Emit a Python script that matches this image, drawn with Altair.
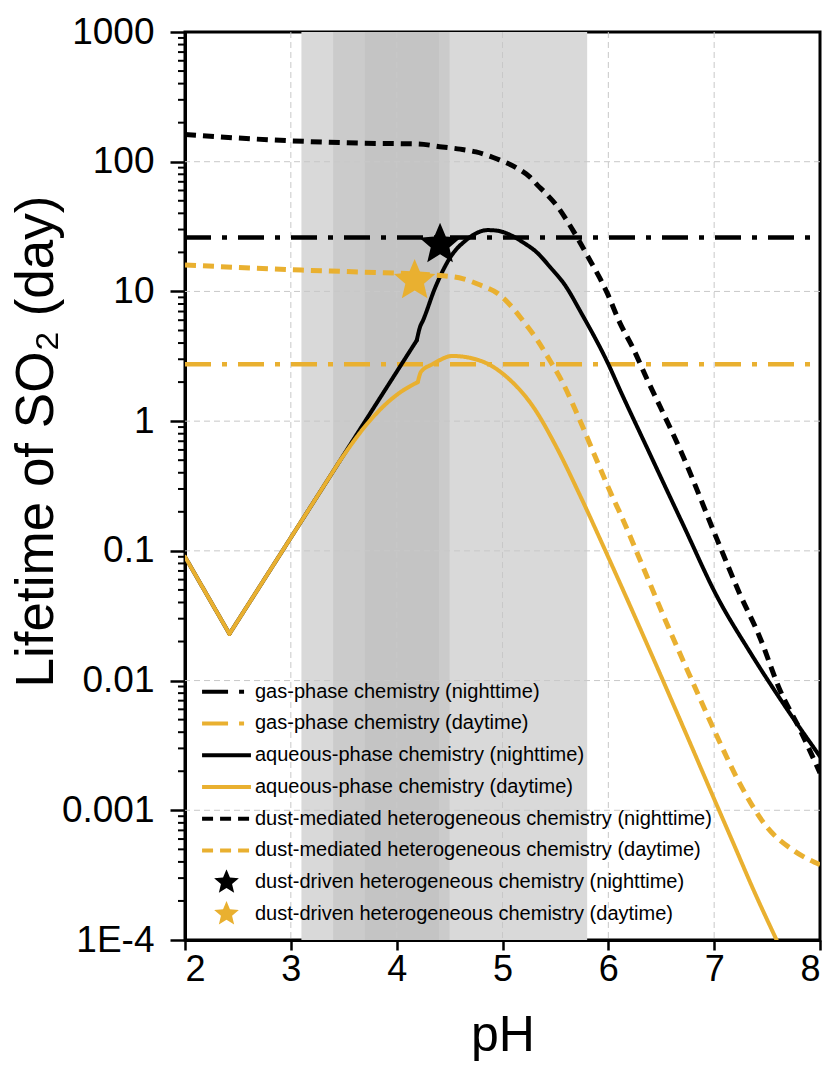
import json
import altair as alt
import pandas as pd

# ---------------- data ----------------
series_names = [
    "gas-phase chemistry (nighttime)",
    "gas-phase chemistry (daytime)",
    "aqueous-phase chemistry (nighttime)",
    "aqueous-phase chemistry (daytime)",
    "dust-mediated heterogeneous chemistry (nighttime)",
    "dust-mediated heterogeneous chemistry (daytime)",
    "dust-driven heterogeneous chemistry (nighttime)",
    "dust-driven heterogeneous chemistry (daytime)",
]

gas_night_ph = [2.0, 8.0]
gas_night_val = [26.0, 26.0]
gas_day_ph = [2.0, 8.0]
gas_day_val = [2.75, 2.75]

aq_night_ph = [2.00, 2.42, 4.19, 4.22, 4.25, 4.36, 4.51, 4.66, 4.76, 4.86, 4.95, 5.05, 5.19,
               5.33, 5.45, 5.59, 5.745, 6.00, 6.11, 6.375, 6.52, 6.71, 7.03, 7.34, 7.65, 8.00]
aq_night_val = [0.090, 0.0229, 4.2, 5.3, 6.0, 10.5, 18.5, 25.0, 28.3, 29.7, 29.4, 27.8, 24.0,
                19.8, 15.4, 11.2, 6.8, 2.75, 1.74, 0.60, 0.335, 0.157, 0.044, 0.0165, 0.0067, 0.0026]
aq_night_kinks = [2.42, 4.19]

aq_day_ph = [2.00, 2.42, 3.46, 3.72, 3.87, 4.03, 4.20, 4.23, 4.34, 4.53, 4.82, 5.04, 5.29,
             5.51, 5.73, 5.99, 6.23, 6.49, 6.74, 7.01, 7.18, 7.37, 7.59]
aq_day_val = [0.090, 0.0229, 0.49, 0.95, 1.29, 1.66, 2.0, 2.4, 2.75, 3.18, 2.86, 2.19, 1.29,
              0.63, 0.27, 0.093, 0.034, 0.0112, 0.0038, 0.00117, 0.00056, 0.000245, 0.0001]
aq_day_kinks = [2.42, 3.46, 4.20]

dust_night_ph = [2.00, 2.99, 3.68, 4.20, 4.43, 4.60, 4.75, 4.95, 5.14, 5.26, 5.33, 5.40, 5.52,
                 5.62, 5.80, 5.99, 6.11, 6.23, 6.37, 6.49, 6.68, 7.03, 7.24, 7.43, 7.62, 7.81, 8.00]
dust_night_val = [162, 145, 139, 137, 130, 125, 119, 105, 89, 76, 66, 58, 45,
                  34, 19, 9.7, 5.7, 3.7, 2.07, 1.29, 0.60, 0.121, 0.047, 0.0217, 0.0085, 0.0042, 0.00194]

dust_day_ph = [2.00, 3.10, 3.68, 4.44, 4.63, 4.79, 4.95, 5.07, 5.19, 5.33, 5.43, 5.57, 5.73,
               5.89, 6.04, 6.11, 6.30, 6.55, 6.80, 7.03, 7.24, 7.50, 7.75, 8.00]
dust_day_val = [16.0, 14.6, 14.1, 13.2, 12.5, 11.2, 9.7, 7.9, 6.0, 4.2, 3.1, 1.97, 1.02,
                0.50, 0.26, 0.196, 0.085, 0.0278, 0.0096, 0.00367, 0.00162, 0.00074, 0.00049, 0.00038]

star_ph = [4.41, 4.17]
star_val = [23.0, 12.1]

band_names = ["pH range A", "pH range B", "pH range C"]
band_start = [3.1, 3.4, 3.7]
band_end = [5.8, 4.5, 4.4]

x_ticks = [2, 3, 4, 5, 6, 7, 8]
x_grid = [3, 4, 5, 6, 7]
y_ticks = [0.0001, 0.001, 0.01, 0.1, 1, 10, 100, 1000]
y_tick_labels = ["1E-4", "0.001", "0.01", "0.1", "1", "10", "100", "1000"]
y_grid = [0.001, 0.01, 0.1, 1, 10, 100]
y_minor = [m * d for d in [0.0001, 0.001, 0.01, 0.1, 1, 10, 100] for m in range(2, 10)]

# ---------------- styles ----------------
BLACK = "#000000"
ORANGE = "#E9B030"
FONT = "Liberation Sans"
series_colors = [BLACK, ORANGE] * 4
legend_strokes = [BLACK, ORANGE] * 3 + ["transparent", "transparent"]
DASHDOT = [26, 11, 5, 11]
SOLID = [1, 0]
DASHED = [11, 7]
series_dash = [DASHDOT, DASHDOT, SOLID, SOLID, DASHED, DASHED, SOLID, SOLID]
LINE_PATH = "M-1.88,0H1.88"
STAR_PATH = ("M0,-1L0.2645,-0.3641L0.9511,-0.309L0.428,0.1391L0.5878,0.809L0,0.45"
             "L-0.5878,0.809L-0.428,0.1391L-0.9511,-0.309L-0.2645,-0.3641Z")
series_shape = [LINE_PATH] * 6 + [STAR_PATH] * 2
band_colors = ["#d9d9d9", "#cbcbcb", "#c4c4c4"]


def frame(series, ph, val, kinks=()):
    rows = []
    seg = 0
    for p, v in zip(ph, val):
        rows.append({"series": series, "seg": f"{series}-{seg}", "pH": p, "value": v})
        if p in kinks:
            seg += 1
            rows.append({"series": series, "seg": f"{series}-{seg}", "pH": p, "value": v})
    return pd.DataFrame(rows)


gas_df = pd.concat([frame(series_names[0], gas_night_ph, gas_night_val),
                    frame(series_names[1], gas_day_ph, gas_day_val)], ignore_index=True)
aq_df = pd.concat([frame(series_names[2], aq_night_ph, aq_night_val, aq_night_kinks),
                   frame(series_names[3], aq_day_ph, aq_day_val, aq_day_kinks)], ignore_index=True)
dust_df = pd.concat([frame(series_names[4], dust_night_ph, dust_night_val),
                     frame(series_names[5], dust_day_ph, dust_day_val)], ignore_index=True)
star_df = pd.DataFrame({"series": series_names[6:], "pH": star_ph, "value": star_val})
band_df = pd.DataFrame({"band": band_names, "start": band_start, "end": band_end})

# ---------------- scales / axes ----------------
x_scale = alt.Scale(type="linear", domain=[2, 8], nice=False, zero=False)
y_scale = alt.Scale(type="log", domain=[0.0001, 1000], nice=False)

label_expr = "{}[indexof({}, datum.value)]".format(json.dumps(y_tick_labels), json.dumps(y_ticks))

x_axis = alt.Axis(values=x_ticks, format="d", grid=False, domainColor=BLACK, domainWidth=3,
                  tickColor=BLACK, tickWidth=2.5, tickSize=10, labelFont=FONT, labelFontSize=36,
                  labelColor=BLACK, labelPadding=2, titleFont=FONT, titleFontSize=50,
                  titleFontWeight="normal", titleColor=BLACK, titleX=317.5, titleY=110,
                  titleBaseline="alphabetic", titleAlign="center")
y_axis = alt.Axis(values=y_ticks, labelExpr=label_expr, grid=False, domainColor=BLACK, domainWidth=3,
                  tickColor=BLACK, tickWidth=2.5, tickSize=15, labelFont=FONT, labelFontSize=37,
                  labelColor=BLACK, labelPadding=16, titleFont=FONT, titleFontSize=53,
                  titleFontWeight="normal", titleColor=BLACK, titleAngle=270, titleX=-133,
                  titleY=409, titleBaseline="alphabetic", titleAlign="center")

X_TITLE = "pH"
Y_TITLE = "Lifetime of SO\u2082 (day)"


def X(field):
    return alt.X(field, type="quantitative", scale=x_scale, axis=x_axis, title=X_TITLE)


def Y(field):
    return alt.Y(field, type="quantitative", scale=y_scale, axis=y_axis, title=Y_TITLE)


legend = alt.Legend(orient="none", legendX=16.5, legendY=646.7, padding=0, labelFont=FONT,
                    labelFontSize=20, labelColor=BLACK, labelLimit=700, symbolSize=676,
                    symbolStrokeWidth=4, labelOffset=13.5, rowPadding=5.75, symbolOffset=10,
                    clipHeight=26)

stroke_enc = alt.Stroke("series:N", scale=alt.Scale(domain=series_names, range=legend_strokes),
                        legend=legend, title=None)
dash_enc = alt.StrokeDash("series:N", scale=alt.Scale(domain=series_names, range=series_dash),
                          legend=legend, title=None)
fill_enc = alt.Fill("series:N", scale=alt.Scale(domain=series_names, range=series_colors),
                    legend=legend, title=None)
shape_enc = alt.Shape("series:N", scale=alt.Scale(domain=series_names, range=series_shape),
                      legend=legend, title=None)

# ---------------- layers ----------------
bands = alt.Chart(band_df).mark_rect().encode(
    x=X("start"), x2="end",
    color=alt.Color("band:N", scale=alt.Scale(domain=band_names, range=band_colors), legend=None),
)

grid_x = alt.Chart(pd.DataFrame({"v": x_grid})).mark_rule(
    color="#c8c8c8", strokeWidth=1, strokeDash=[6, 4]).encode(x=X("v"))
grid_y = alt.Chart(pd.DataFrame({"v": y_grid})).mark_rule(
    color="#c8c8c8", strokeWidth=1, strokeDash=[6, 4]).encode(y=Y("v"))


def lines(df, width, cap="butt"):
    return alt.Chart(df).mark_line(strokeWidth=width, clip=True, interpolate="monotone",
                                   strokeCap=cap).encode(
        x=X("pH"), y=Y("value"), stroke=stroke_enc, strokeDash=dash_enc, detail="seg:N")


gas_lines = lines(gas_df, 4.5)
aq_lines = lines(aq_df, 4, "round")
dust_lines = lines(dust_df, 5)

stars = alt.Chart(star_df).mark_point(filled=True, size=1900, opacity=1, strokeWidth=0).encode(
    x=X("pH"), y=Y("value"), fill=fill_enc, shape=shape_enc)

minor = alt.Chart(pd.DataFrame({"v": y_minor})).mark_rule(color=BLACK, strokeWidth=2).encode(
    y=Y("v"), x=alt.value(-7), x2=alt.value(0))

chart = alt.layer(bands, grid_x, grid_y, gas_lines, aq_lines, dust_lines, stars, minor).properties(
    width=635, height=908,
    autosize=alt.AutoSizeParams(type="none"),
    padding={"left": 185, "top": 32, "right": 15, "bottom": 130},
).configure_view(stroke=BLACK, strokeWidth=3)

chart.save("out.html", embed_options={"renderer": "svg", "actions": False})
